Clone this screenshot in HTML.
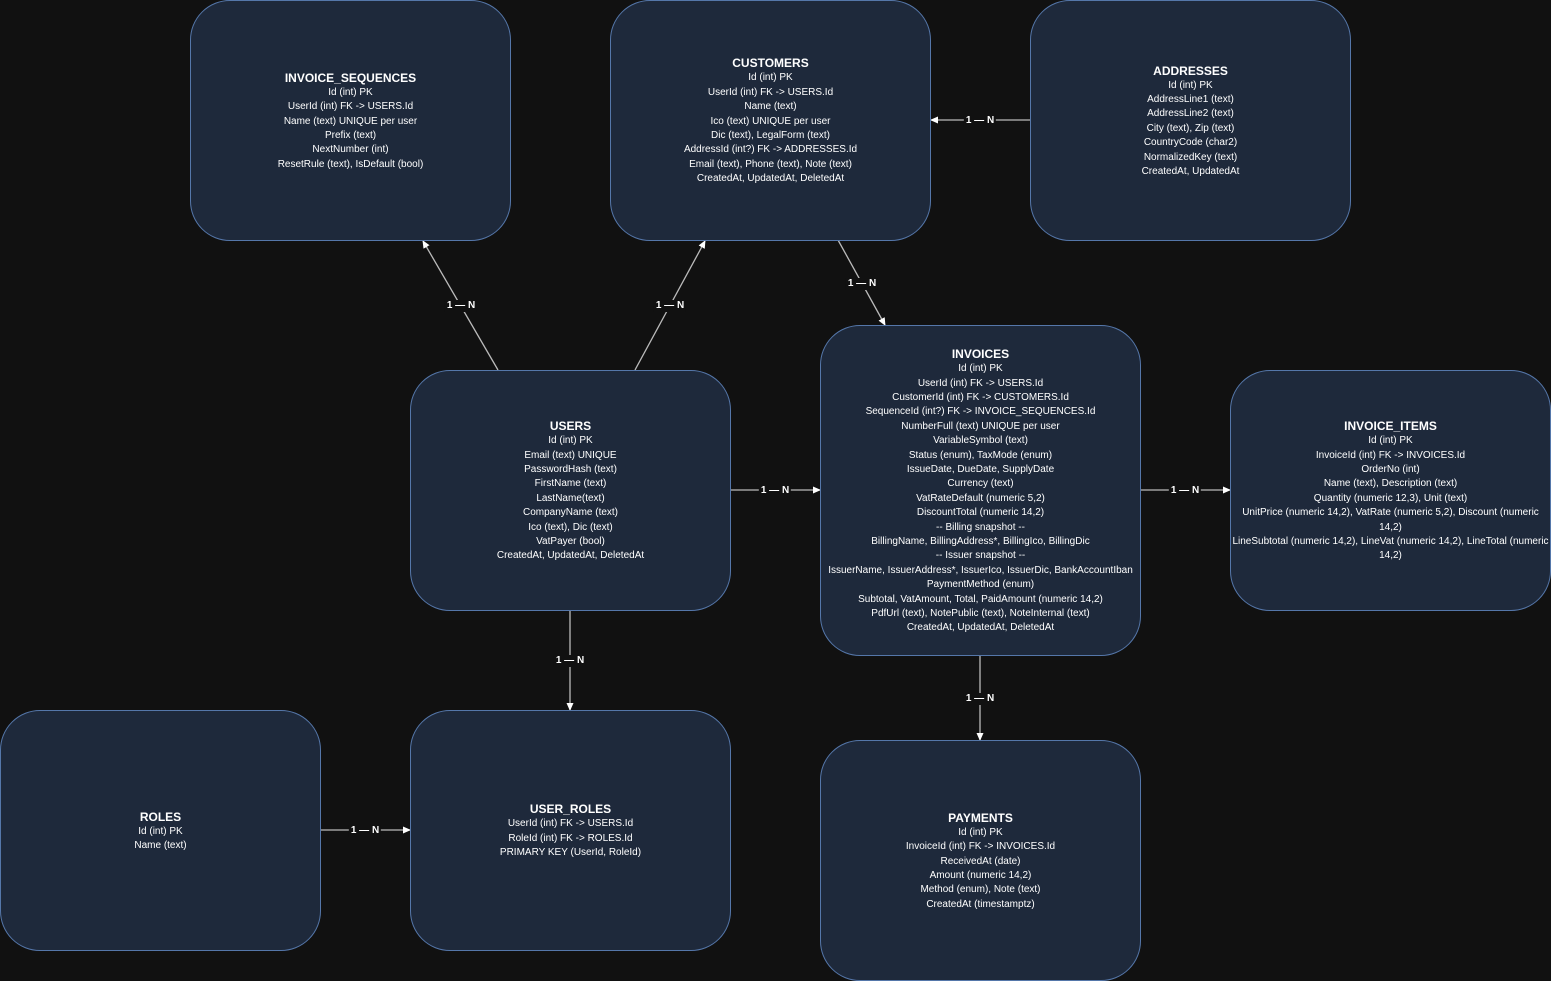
<!DOCTYPE html>
<html><head><meta charset="utf-8"><style>
html,body{margin:0;padding:0;background:#111111;width:1551px;height:981px;overflow:hidden}
.b{position:absolute;box-sizing:border-box;width:321px;height:241px;padding-top:2px;background:#1e293b;border:1px solid #5577aa;border-radius:40px;display:flex;flex-direction:column;justify-content:center;align-items:center;text-align:center;color:#fff;font-family:"Liberation Sans",Arial,sans-serif;font-size:10px;line-height:14.4px}
.b b{font-size:12px;line-height:15px}
.l{position:absolute;font-family:"Liberation Sans",Arial,sans-serif;font-size:10px;font-weight:bold;color:#fff;background:#111;transform:translate(-50%,-50%);padding:0 2px;line-height:12px;white-space:nowrap;margin-top:1px}
svg{position:absolute;left:0;top:0}
</style></head><body>
<svg width="1551" height="981">
<defs><marker id="a" markerWidth="8" markerHeight="8" refX="7" refY="4" orient="auto" markerUnits="userSpaceOnUse"><path d="M0,0.5 L8,4 L0,7.5 Z" fill="#fff"/></marker></defs>
<g stroke="#bbb" stroke-width="1.3" fill="none" marker-end="url(#a)">
<line x1="498" y1="370" x2="423" y2="241"/>
<line x1="635" y1="370" x2="705" y2="241"/>
<line x1="838" y1="240" x2="885" y2="325"/>
<line x1="1030" y1="120" x2="931" y2="120"/>
<line x1="730" y1="490" x2="820" y2="490"/>
<line x1="1140" y1="490" x2="1230" y2="490"/>
<line x1="570" y1="610" x2="570" y2="710"/>
<line x1="980" y1="655" x2="980" y2="740"/>
<line x1="320" y1="830" x2="410" y2="830"/>
</g></svg>
<div class="l" style="left:461px;top:305px">1 — N</div>
<div class="l" style="left:670px;top:305px">1 — N</div>
<div class="l" style="left:862px;top:283px">1 — N</div>
<div class="l" style="left:980px;top:120px">1 — N</div>
<div class="l" style="left:775px;top:490px">1 — N</div>
<div class="l" style="left:1185px;top:490px">1 — N</div>
<div class="l" style="left:570px;top:660px">1 — N</div>
<div class="l" style="left:980px;top:698px">1 — N</div>
<div class="l" style="left:365px;top:830px">1 — N</div>

<div class="b" style="left:190px;top:0px"><b>INVOICE_SEQUENCES</b>Id (int) PK<br>UserId (int) FK -&gt; USERS.Id<br>Name (text) UNIQUE per user<br>Prefix (text)<br>NextNumber (int)<br>ResetRule (text), IsDefault (bool)</div>
<div class="b" style="left:610px;top:0px"><b>CUSTOMERS</b>Id (int) PK<br>UserId (int) FK -&gt; USERS.Id<br>Name (text)<br>Ico (text) UNIQUE per user<br>Dic (text), LegalForm (text)<br>AddressId (int?) FK -&gt; ADDRESSES.Id<br>Email (text), Phone (text), Note (text)<br>CreatedAt, UpdatedAt, DeletedAt</div>
<div class="b" style="left:1030px;top:0px"><b>ADDRESSES</b>Id (int) PK<br>AddressLine1 (text)<br>AddressLine2 (text)<br>City (text), Zip (text)<br>CountryCode (char2)<br>NormalizedKey (text)<br>CreatedAt, UpdatedAt</div>
<div class="b" style="left:410px;top:370px"><b>USERS</b>Id (int) PK<br>Email (text) UNIQUE<br>PasswordHash (text)<br>FirstName (text)<br>LastName(text)<br>CompanyName (text)<br>Ico (text), Dic (text)<br>VatPayer (bool)<br>CreatedAt, UpdatedAt, DeletedAt</div>
<div class="b" style="left:820px;top:325px;height:331px"><b>INVOICES</b>Id (int) PK<br>UserId (int) FK -&gt; USERS.Id<br>CustomerId (int) FK -&gt; CUSTOMERS.Id<br>SequenceId (int?) FK -&gt; INVOICE_SEQUENCES.Id<br>NumberFull (text) UNIQUE per user<br>VariableSymbol (text)<br>Status (enum), TaxMode (enum)<br>IssueDate, DueDate, SupplyDate<br>Currency (text)<br>VatRateDefault (numeric 5,2)<br>DiscountTotal (numeric 14,2)<br>-- Billing snapshot --<br>BillingName, BillingAddress*, BillingIco, BillingDic<br>-- Issuer snapshot --<br>IssuerName, IssuerAddress*, IssuerIco, IssuerDic, BankAccountIban<br>PaymentMethod (enum)<br>Subtotal, VatAmount, Total, PaidAmount (numeric 14,2)<br>PdfUrl (text), NotePublic (text), NoteInternal (text)<br>CreatedAt, UpdatedAt, DeletedAt</div>
<div class="b" style="left:1230px;top:370px"><b>INVOICE_ITEMS</b>Id (int) PK<br>InvoiceId (int) FK -&gt; INVOICES.Id<br>OrderNo (int)<br>Name (text), Description (text)<br>Quantity (numeric 12,3), Unit (text)<br>UnitPrice (numeric 14,2), VatRate (numeric 5,2), Discount (numeric<br>14,2)<br>LineSubtotal (numeric 14,2), LineVat (numeric 14,2), LineTotal (numeric<br>14,2)</div>
<div class="b" style="left:0px;top:710px"><b>ROLES</b>Id (int) PK<br>Name (text)</div>
<div class="b" style="left:410px;top:710px"><b>USER_ROLES</b>UserId (int) FK -&gt; USERS.Id<br>RoleId (int) FK -&gt; ROLES.Id<br>PRIMARY KEY (UserId, RoleId)</div>
<div class="b" style="left:820px;top:740px"><b>PAYMENTS</b>Id (int) PK<br>InvoiceId (int) FK -&gt; INVOICES.Id<br>ReceivedAt (date)<br>Amount (numeric 14,2)<br>Method (enum), Note (text)<br>CreatedAt (timestamptz)</div>
</body></html>
